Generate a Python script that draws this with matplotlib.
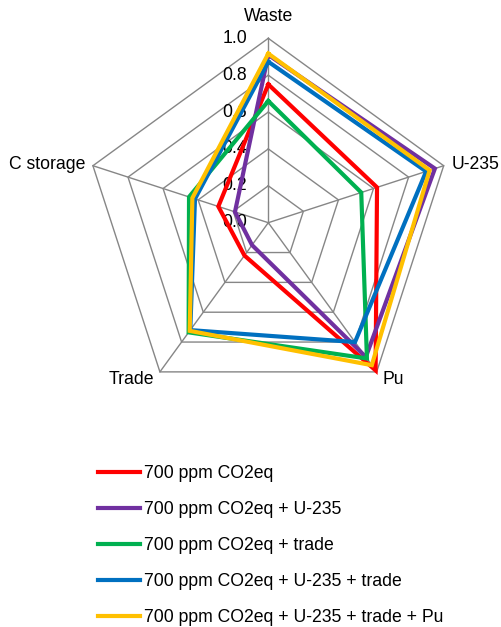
import numpy as np
import matplotlib.pyplot as plt
from matplotlib.lines import Line2D

plt.rcParams['font.family'] = ['Liberation Sans', 'DejaVu Sans']

categories = ['Waste', 'U-235', 'Pu', 'Trade', 'C storage']
series_names = ['700 ppm CO2eq',
                '700 ppm CO2eq + U-235',
                '700 ppm CO2eq + trade',
                '700 ppm CO2eq + U-235 + trade',
                '700 ppm CO2eq + U-235 + trade + Pu']
red = [0.75, 0.62, 0.99, 0.22, 0.285]
purple = [0.91, 0.95, 0.90, 0.15, 0.19]
green = [0.66, 0.53, 0.91, 0.735, 0.452]
blue = [0.873, 0.90, 0.80, 0.72, 0.418]
yellow = [0.917, 0.92, 0.955, 0.725, 0.433]
ticks = [0.0, 0.2, 0.4, 0.6, 0.8, 1.0]
colors = ['#FF0000', '#7030A0', '#00B050', '#0070C0', '#FFC000']

W, H = 501, 627
cx, cy, R = 268.3, 404.3, 184.4   # centre and radius in pixels

fig = plt.figure(figsize=(W / 100, H / 100), dpi=100)
ax = fig.add_axes([0, 0, 1, 1])
ax.set_xlim(-cx / R, (W - cx) / R)
ax.set_ylim(-cy / R, (H - cy) / R)
ax.set_aspect('equal')
ax.axis('off')

n = len(categories)
ang = np.pi / 2 - 2 * np.pi * np.arange(n) / n
ang_c = np.append(ang, ang[0])

# grid
grid_col = '#868686'
for t in ticks[1:]:
    ax.plot(t * np.cos(ang_c), t * np.sin(ang_c), color=grid_col, lw=1.0, zorder=1)
for a in ang:
    ax.plot([0, np.cos(a)], [0, np.sin(a)], color=grid_col, lw=1.0, zorder=1)

# tick labels along the Waste axis
for t in ticks:
    ax.text(-0.115, t, '%.1f' % t, ha='right', va='center', fontsize=12.7, zorder=2)

# series
data = [red, purple, green, blue, yellow]
for vals, c in zip(data, colors):
    v = np.append(vals, vals[0])
    ax.plot(v * np.cos(ang_c), v * np.sin(ang_c), color=c, lw=3.0,
            solid_joinstyle='miter', zorder=3)

# category labels
ax.text(0, 1.12, 'Waste', ha='center', va='center', fontsize=12.7)
ax.text(0.996, 0.313, 'U-235', ha='left', va='center', fontsize=12.7)
ax.text(0.617, -0.853, 'Pu', ha='left', va='center', fontsize=12.7)
ax.text(-0.62, -0.853, 'Trade', ha='right', va='center', fontsize=12.7)
ax.text(-0.994, 0.313, 'C storage', ha='right', va='center', fontsize=12.7)

handles = [Line2D([], [], color=c, lw=3.0) for c in colors]
fig.legend(handles, series_names, loc='upper left',
           bbox_to_anchor=(98 / W, 1 - 465 / H), frameon=False,
           fontsize=12.7, handlelength=2.4, handletextpad=0.2,
           labelspacing=1.08, borderpad=0, borderaxespad=0)

fig.savefig('out.png', dpi=100)
